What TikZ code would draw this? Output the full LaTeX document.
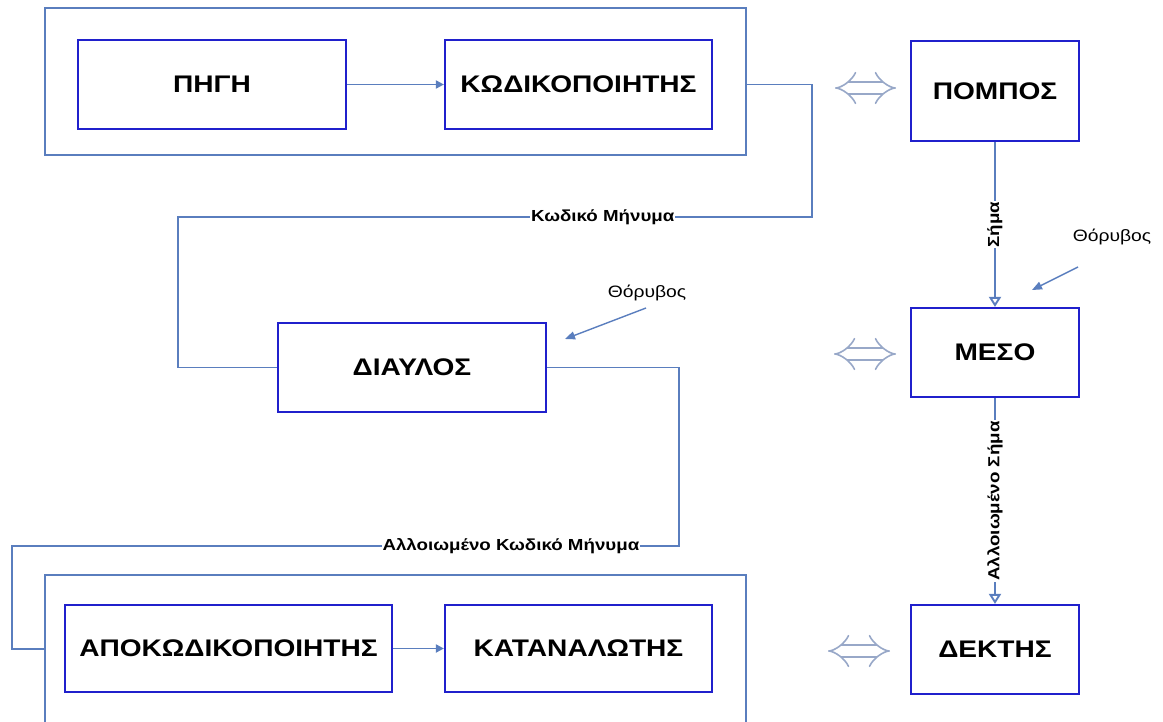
\documentclass[tikz,border=0pt]{standalone}
\usepackage{fontspec}
\setmainfont{Liberation Sans}[FakeStretch=1.17]
\usetikzlibrary{arrows.meta}
\definecolor{boxblue}{HTML}{2020CC}
\definecolor{lineblue}{HTML}{5A7EBE}
\definecolor{dblgray}{HTML}{98A8C8}
\begin{document}
\begin{tikzpicture}[x=1pt,y=-1pt,
  block/.style={draw=boxblue,line width=2.2pt,fill=white,inner sep=0pt,
    font=\fontsize{24}{28}\selectfont\bfseries},
  outer/.style={draw=lineblue,line width=1.8pt,inner sep=0pt},
  conn/.style={draw=lineblue,line width=1.9pt},
  lbl/.style={fill=white,inner sep=1pt,font=\fontsize{16}{19}\selectfont\bfseries},
  noise/.style={inner sep=0pt,font=\fontsize{16.5}{19}\selectfont},
  noisearrow/.style={draw=lineblue,line width=1.4pt,-{Triangle[length=10pt,width=8pt]}},
  flow/.style={conn,-{Triangle[length=8pt,width=8pt]}},
  sig/.style={conn,-{Triangle[open,length=10pt,width=12pt]}},
  dbl/.style={draw=dblgray,line width=1.6pt,double=white,double distance=10pt,{Implies[scale=1.25]}-{Implies[scale=1.25]}}
]
\useasboundingbox (0,0) rectangle (1163,721);

% top group
\node[outer,minimum width=701pt,minimum height=147pt] (topbox) at (395.5,81.5) {};
\node[block,minimum width=268pt,minimum height=89pt] (pigi) at (212,84.5) {ΠΗΓΗ};
\node[block,minimum width=267pt,minimum height=89pt] (kod) at (578.5,84.5) {ΚΩΔΙΚΟΠΟΙΗΤΗΣ};
\draw[flow] (pigi) -- (kod);

% channel
\node[block,minimum width=268pt,minimum height=89pt] (diav) at (412,367.5) {ΔΙΑΥΛΟΣ};

% bottom group
\draw[conn] (45,730) -- (45,575) -- (746,575) -- (746,730);
\coordinate (botin) at (45,649);
\node[block,minimum width=327pt,minimum height=87pt] (apok) at (228.5,648.5) {ΑΠΟΚΩΔΙΚΟΠΟΙΗΤΗΣ};
\node[block,minimum width=267pt,minimum height=87pt] (katan) at (578.5,648.5) {ΚΑΤΑΝΑΛΩΤΗΣ};
\draw[flow] (apok) -- (katan);

% connectors
\draw[conn] (topbox.east |- kod.east) -- (812,84.5) -- (812,217)
  -- node[lbl,pos=0.33] {Κωδικό Μήνυμα} (178,217) -- (178,367.5) -- (diav.west);
\draw[conn] (diav.east) -- (679,367.5) -- (679,546)
  -- node[lbl,pos=0.252] {Αλλοιωμένο Κωδικό Μήνυμα} (12,546) -- (12,649) -- (botin);

% right column
\node[block,minimum width=168pt,minimum height=100pt] (pompos) at (995,91) {ΠΟΜΠΟΣ};
\node[block,minimum width=168pt,minimum height=89pt] (meso) at (995,352.5) {ΜΕΣΟ};
\node[block,minimum width=168pt,minimum height=89pt] (dektis) at (995,649.5) {ΔΕΚΤΗΣ};
\draw[sig] (pompos) -- node[lbl,rotate=90] {Σήμα} (meso);
\draw[sig] (meso) -- node[lbl,rotate=90] {Αλλοιωμένο Σήμα} (dektis);

% noise
\node[noise] (th1) at (1112,237) {Θόρυβος};
\coordinate (th1s) at (1078,267);
\coordinate (th1e) at (1032,290);
\draw[noisearrow] (th1s) -- (th1e);
\node[noise] (th2) at (647,293) {Θόρυβος};
\coordinate (th2s) at (646,308);
\coordinate (th2e) at (565,339);
\draw[noisearrow] (th2s) -- (th2e);

% double arrows
\coordinate (d1a) at (835,88);
\coordinate (d1b) at (896,88);
\draw[dbl] (d1a) -- (d1b);
\coordinate (d2a) at (834,354);
\coordinate (d2b) at (896,354);
\draw[dbl] (d2a) -- (d2b);
\coordinate (d3a) at (828,651);
\coordinate (d3b) at (890,651);
\draw[dbl] (d3a) -- (d3b);
\end{tikzpicture}
\end{document}
